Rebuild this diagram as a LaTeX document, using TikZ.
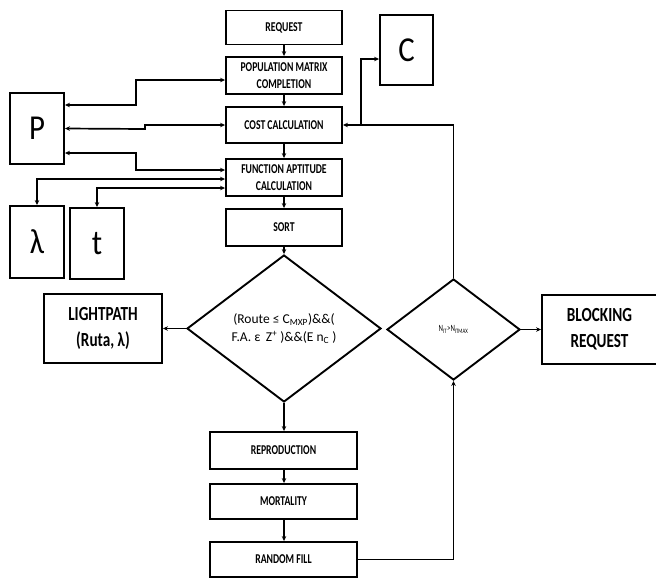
\documentclass[tikz,border=0pt]{standalone}
\usepackage{fontspec}
\setmainfont{Carlito}
\newfontfamily\condf[FakeStretch=0.72]{Carlito}
\newfontfamily\midf[FakeStretch=0.76]{Carlito}
\newfontfamily\bigf[FakeStretch=0.88]{Carlito}
\usetikzlibrary{arrows.meta,shapes.geometric}
\tikzset{
  box/.style={draw, line width=1.9pt, rectangle, inner sep=0pt, align=center,
    font=\condf\bfseries\fontsize{13.5}{17.5}\selectfont},
  big/.style={draw, line width=1.9pt, rectangle, inner sep=0pt,
    font=\bigf\fontsize{35}{36}\selectfont},
  side/.style={draw, line width=1.9pt, rectangle, inner sep=0pt, align=center,
    font=\midf\bfseries\fontsize{20}{26}\selectfont},
  dia/.style={draw, line width=1.9pt, diamond, inner sep=0pt, align=center},
  conn/.style={line width=1.7pt, -{Stealth[length=5pt,width=4.5pt]}},
  dconn/.style={line width=1.7pt, {Stealth[length=5pt,width=4.5pt]}-{Stealth[length=5pt,width=4.5pt]}}
}
\begin{document}
\begin{tikzpicture}[x=1pt,y=-1pt]
\useasboundingbox (0,0) rectangle (656,579);
% main column
\node[box, minimum width=116pt, minimum height=34pt] (req) at (284,27.5) {REQUEST};
\node[box, minimum width=116pt, minimum height=37pt] (pop) at (284,75.5) {POPULATION MATRIX\\COMPLETION};
\node[box, minimum width=116pt, minimum height=36pt] (cost) at (284,125) {COST CALCULATION};
\node[box, minimum width=116pt, minimum height=37pt] (fa) at (284,177.5) {FUNCTION APTITUDE\\CALCULATION};
\node[box, minimum width=116pt, minimum height=37pt] (sort) at (284,227.5) {SORT};
% side letters
\node[big, minimum width=53pt, minimum height=70pt] (C) at (406.5,50) {C};
\node[big, minimum width=54pt, minimum height=71pt] (P) at (37,128.5) {P};
\node[big, minimum width=54pt, minimum height=72pt] (lam) at (37,242) {λ};
\node[big, minimum width=54pt, minimum height=71pt] (t) at (97,243.5) {t};
% diamonds
\node[dia, minimum width=194pt, minimum height=147pt, font=\fontsize{13.5}{18}\selectfont] (d1) at (284,328.5)
  {(Route ≤ C\textsubscript{MXP})\&\&(\\F.A. ε\, Z\textsuperscript{+} )\&\&(E n\textsubscript{C} )};
\node[dia, minimum width=133pt, minimum height=101pt, font=\condf\fontsize{9.5}{11}\selectfont] (d2) at (453.5,329.5)
  {N\textsubscript{IT}>N\textsubscript{ITMAX}};
% outcome boxes
\node[side, minimum width=118pt, minimum height=69pt] (light) at (103,328.5) {LIGHTPATH\\(Ruta, λ)};
\node[side, minimum width=115pt, minimum height=69pt] (block) at (599.5,329.5) {BLOCKING\\REQUEST};
% lower column
\node[box, minimum width=147pt, minimum height=37pt] (rep) at (283.5,450.5) {REPRODUCTION};
\node[box, minimum width=147pt, minimum height=35pt] (mort) at (283.5,501.5) {MORTALITY};
\node[box, minimum width=147pt, minimum height=35pt] (rf) at (283.5,559.5) {RANDOM FILL};
% vertical flow
\draw[conn] (req) -- (pop);
\draw[conn] (pop) -- (cost);
\draw[conn] (cost) -- (fa);
\draw[conn] (fa) -- (sort);
\draw[conn] (sort) -- (d1.north);
\draw[conn] (d1.south) -- (rep.north -| d1.south);
\draw[conn] (rep.south -| d1.south) -- (mort.north -| d1.south);
\draw[conn] (mort.south -| d1.south) -- (rf.north -| d1.south);
\draw[conn] (d1.west) -- (light.east);
\draw[conn] (d2.east) -- (block.west);
\draw[conn] (rf.east) -| (d2.south);
\draw[conn] (d2.north) |- (cost.east);
\coordinate (jc) at (361,125);
\draw[conn] (jc) |- ([yshift=-9pt]C.west);
% P links
\draw[dconn] ([yshift=23.5pt]P.east) -- (136,105) -- (136,80) -- ([yshift=-4.5pt]pop.west);
\draw[dconn] (P.east) -- (145,129) -- (145,125) -- (cost.west);
\draw[dconn] ([yshift=-24.5pt]P.east) -- (136,153) -- (136,170) -- ([yshift=7.5pt]fa.west);
\draw[dconn] ([yshift=-1.5pt]fa.west) -| (lam.north);
\draw[dconn] ([yshift=-10.5pt]fa.west) -| (t.north);
\end{tikzpicture}
\end{document}
